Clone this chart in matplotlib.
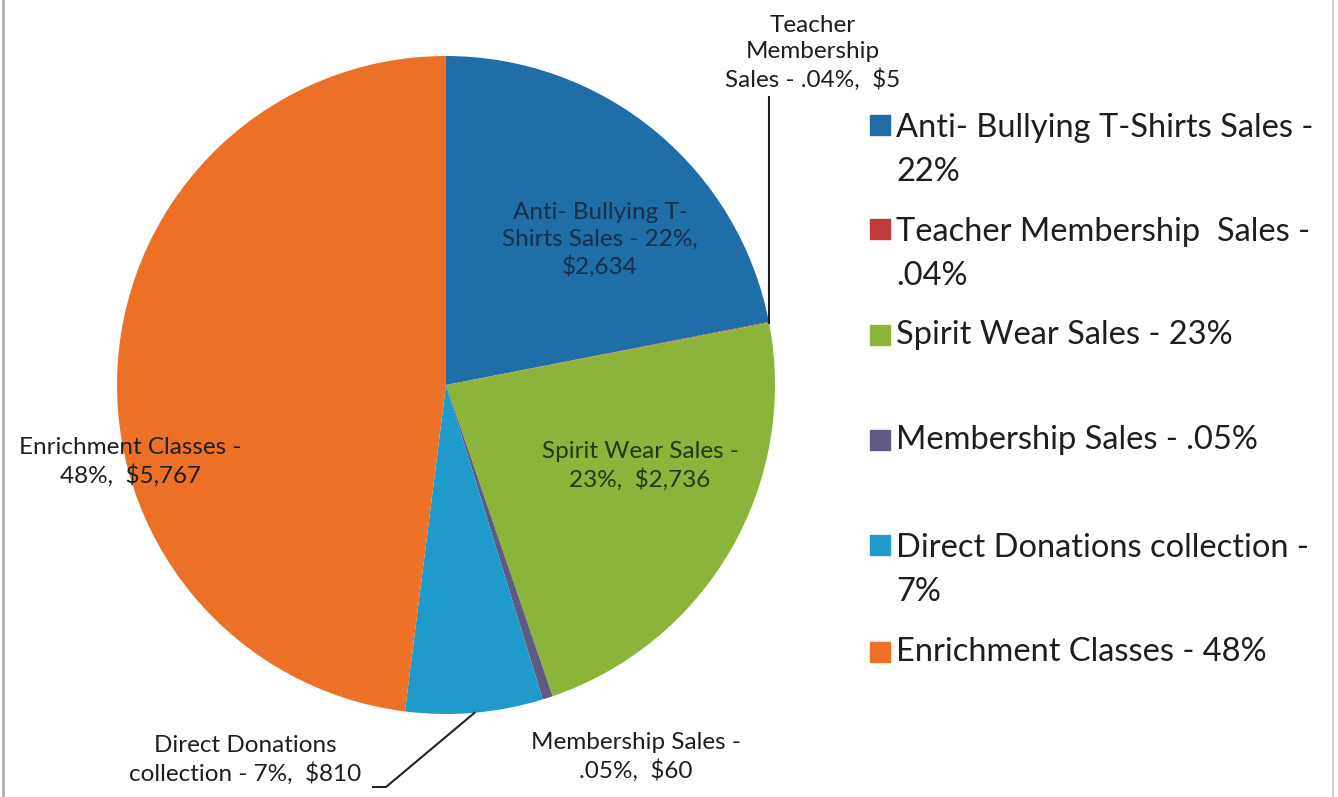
import numpy as np
import matplotlib.pyplot as plt
from matplotlib.patches import Rectangle
from matplotlib.lines import Line2D

plt.rcParams['font.family'] = ['Lato', 'DejaVu Sans']

# data
names = ['Anti- Bullying T-Shirts Sales', 'Teacher Membership  Sales',
         'Spirit Wear Sales', 'Membership Sales',
         'Direct Donations collection', 'Enrichment Classes']
amounts = [2634, 5, 2736, 60, 810, 5767]
pct_text = ['22%', '.04%', '23%', '.05%', '7%', '48%']
legend_text = ['Anti- Bullying T-Shirts Sales -\n22%',
               'Teacher Membership  Sales -\n.04%',
               'Spirit Wear Sales - 23%',
               'Membership Sales - .05%',
               'Direct Donations collection -\n7%',
               'Enrichment Classes - 48%']
colors = ['#1f6ea8', '#c0393b', '#8cb33a', '#5f5a82', '#1e9acb', '#ec7127']

W, H = 1338, 797
fig = plt.figure(figsize=(W / 100, H / 100), dpi=100)

cx, cy, R = 446, 385, 329
ax = fig.add_axes([(cx - R) / W, (H - cy - R) / H, 2 * R / W, 2 * R / H])
wedges, _ = ax.pie(amounts, colors=colors, startangle=90, counterclock=False,
                   radius=1, wedgeprops=dict(linewidth=0))
ax.set_xlim(-1, 1)
ax.set_ylim(-1, 1)
ax.set_aspect('equal')
ax.axis('off')


def px(x, y):
    # pixel position of the picture -> data coords of the pie
    return (x - cx) / R, (cy - y) / R


def edge(i, frac=0.5):
    w = wedges[i]
    a = np.deg2rad(w.theta1 + (w.theta2 - w.theta1) * frac)
    return np.cos(a), np.sin(a)


tc = '#1e1e1e'
fs = 17.5
ls = 1.3

def lab(i, sep=',  '):
    return f"{pct_text[i]}{sep}${amounts[i]:,}"

ax.text(*px(600, 240), "Anti- Bullying T-\nShirts Sales - " + lab(0, ',\n'),
        ha='center', va='center', fontsize=fs, color='#16304a',
        linespacing=ls, clip_on=False)
ax.text(*px(640, 466), "Spirit Wear Sales -\n" + lab(2),
        ha='center', va='center', fontsize=fs, color='#26361a',
        linespacing=ls, clip_on=False)
ax.text(*px(130, 462), "Enrichment Classes -\n" + lab(5),
        ha='center', va='center', fontsize=fs, color=tc,
        linespacing=ls, clip_on=False)
ax.text(*px(636, 757), "Membership Sales -\n" + lab(3),
        ha='center', va='center', fontsize=fs, color=tc,
        linespacing=ls, clip_on=False)

# teacher membership with vertical leader
tx, ty = edge(1, 0.0)
ax.text(*px(813, 53), "Teacher\nMembership\nSales - " + lab(1),
        ha='center', va='center', fontsize=fs, color=tc,
        linespacing=ls, clip_on=False)
ax.plot([tx, tx], [ty, px(0, 97)[1]], color='#222222', lw=1.5, clip_on=False)

# direct donations with bent leader
dx, dy = edge(4)
ax.text(*px(245, 760), "Direct Donations\ncollection - " + lab(4),
        ha='center', va='center', fontsize=fs, color=tc,
        linespacing=ls, clip_on=False)
bx, by = px(373, 787)
kx, ky = px(386, 787)
ax.plot([bx, kx, dx], [by, ky, dy], color='#222222', lw=1.5, clip_on=False)

# legend
leg_y = [150, 254, 335, 440, 570, 652]
for i in range(len(names)):
    lines = legend_text[i].count('\n') + 1
    first = leg_y[i] - (lines - 1) * 25
    fig.add_artist(Rectangle((870 / W, (H - first - 10) / H), 20 / W, 20 / H,
                             transform=fig.transFigure, color=colors[i]))
    fig.text(896 / W, (H - leg_y[i]) / H, legend_text[i], ha='left',
             va='center', fontsize=23.5, color=tc, linespacing=1.55)

# frame lines at the page edges
fig.add_artist(Line2D([3 / W, 3 / W], [0, 1], color='#b0b0b0', lw=2))
fig.add_artist(Line2D([1333 / W, 1333 / W], [0, 1], color='#d0d0d0', lw=1.5))

fig.savefig('out.png', dpi=100)
